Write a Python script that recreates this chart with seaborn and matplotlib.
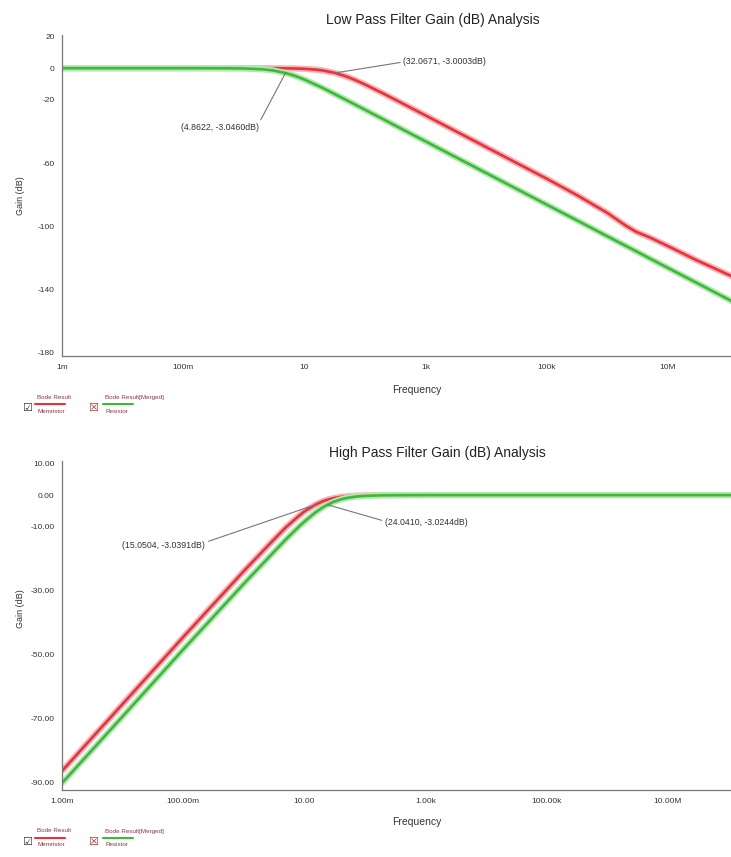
import pandas as pd
import matplotlib
matplotlib.use("Agg")
import matplotlib.pyplot as plt
import seaborn as sns
from matplotlib.lines import Line2D
from matplotlib.ticker import LogLocator, NullFormatter, MultipleLocator

# ---- low pass filter data (Hz, dB) ----
lp_freq = [1e-3, 1e-2, 0.1, 0.5, 1, 2, 3, 4.86, 7, 10, 15, 20, 32.07, 50, 70, 100,
           200, 500, 1e3, 1e4, 1e5, 3e5, 1e6, 2e6, 3e6, 5e6, 1e7, 3e7, 1.2e8]
lp_memristor = [0, 0, 0, 0, 0, -0.02, -0.04, -0.1, -0.2, -0.4, -0.86, -1.43, -3.0, -5.35,
                -7.6, -10.3, -16.0, -23.9, -29.9, -49.9, -69.9, -79.8, -91.5, -99.5,
                -103.5, -107.0, -112.5, -121.5, -132.0]
lp_resistor = [0, 0, 0, -0.05, -0.18, -0.68, -1.4, -3.05, -4.88, -7.19, -10.3, -12.5,
               -16.5, -20.3, -23.2, -26.3, -32.3, -40.3, -46.3, -66.3, -86.3, -95.8,
               -106.3, -112.3, -115.8, -120.3, -126.3, -135.8, -147.8]

# ---- high pass filter data (Hz, dB) ----
hp_freq = [1e-3, 1e-2, 0.1, 1, 3, 5, 8, 10, 15.05, 20, 24.04, 30, 40, 50, 70, 100,
           200, 1e3, 1e4, 1e5, 1e6, 1e7, 1.2e8]
hp_memristor = [-86.5, -65.5, -44.5, -23.8, -14.3, -10.0, -6.6, -5.1, -3.04, -1.95,
                -1.44, -0.97, -0.58, -0.38, -0.2, -0.1, -0.02, 0, 0, 0, 0, 0, 0]
hp_resistor = [-90.3, -69.4, -48.4, -27.8, -18.2, -13.8, -10.0, -8.3, -5.5, -3.88,
               -3.02, -2.15, -1.34, -0.9, -0.48, -0.24, -0.06, 0, 0, 0, 0, 0, 0]

lp_marks = [(32.0671, -3.0003, "(32.0671, -3.0003dB)"), (4.8622, -3.0460, "(4.8622, -3.0460dB)")]
hp_marks = [(15.0504, -3.0391, "(15.0504, -3.0391dB)"), (24.0410, -3.0244, "(24.0410, -3.0244dB)")]

x_ticks = [1e-3, 1e-1, 1e1, 1e3, 1e5, 1e7]
lp_xlabels = ["1m", "100m", "10", "1k", "100k", "10M"]
hp_xlabels = ["1.00m", "100.00m", "10.00", "1.00k", "100.00k", "10.00M"]
lp_yticks = [20, 0, -20, -60, -100, -140, -180]
lp_ylabels = ["20", "0", "-20", "-60", "-100", "-140", "-180"]
hp_yticks = [10, 0, -10, -30, -50, -70, -90]
hp_ylabels = ["10.00", "0.00", "-10.00", "-30.00", "-50.00", "-70.00", "-90.00"]

red = "#e8333b"
green = "#3db83d"
red_halo = "#f7b4b8"
green_halo = "#b5e8b0"

sns.set_style("white")
plt.rcParams["font.family"] = ["Liberation Sans", "DejaVu Sans"]

W, H = 731, 857
fig = plt.figure(figsize=(W / 100, H / 100), dpi=100)


def px(x, y):
    return x / W, 1 - y / H


def draw_panel(ax, freq, mem, res, xlabels, yticks, ylabels, ylim):
    df = pd.DataFrame({"freq": freq, "Memristor": mem, "Resistor": res})
    df = df.melt(id_vars="freq", var_name="series", value_name="gain")
    for name, c, h in [("Memristor", red, red_halo), ("Resistor", green, green_halo)]:
        d = df[df.series == name]
        sns.lineplot(data=d, x="freq", y="gain", color=h, lw=4.5, ax=ax, legend=False)
        sns.lineplot(data=d, x="freq", y="gain", color=c, lw=1.9, ax=ax, legend=False)
    ax.set_xscale("log")
    ax.set_xlim(1e-3, 1.1e8)
    ax.set_ylim(*ylim)
    ax.set_xticks(x_ticks)
    ax.set_xticklabels(xlabels)
    ax.xaxis.set_minor_locator(LogLocator(base=10, subs=(0.2, 0.4, 0.6, 0.8, 1.0), numticks=40))
    ax.xaxis.set_minor_formatter(NullFormatter())
    ax.set_yticks(yticks)
    ax.set_yticklabels(ylabels)
    ax.yaxis.set_minor_locator(MultipleLocator(10))
    for s in ["top", "right"]:
        ax.spines[s].set_visible(False)
    for s in ["left", "bottom"]:
        ax.spines[s].set_color("#777777")
        ax.spines[s].set_linewidth(0.9)
    ax.tick_params(axis="both", which="major", labelsize=6, colors="#777777",
                   labelcolor="#333333", length=3, width=0.7, direction="inout", pad=4)
    ax.tick_params(axis="both", which="minor", colors="#999999", length=2, width=0.5,
                   direction="inout")
    ax.set_xlabel("Frequency", fontsize=7.5, color="#333333")
    ax.set_ylabel("Gain (dB)", fontsize=6.5, color="#333333")
    ax.patch.set_alpha(0)


ax1 = fig.add_axes([0.085, 0.5846, 0.915, 0.3746])
draw_panel(ax1, lp_freq, lp_memristor, lp_resistor, lp_xlabels, lp_yticks, lp_ylabels, (-182, 21))
ax1.xaxis.set_label_coords(0.53, -0.09)
ax1.yaxis.set_label_coords(-0.055, 0.50)

ax2 = fig.add_axes([0.085, 0.0782, 0.915, 0.3839])
draw_panel(ax2, hp_freq, hp_memristor, hp_resistor, hp_xlabels, hp_yticks, hp_ylabels, (-92.5, 10.7))
ax2.xaxis.set_label_coords(0.53, -0.082)
ax2.yaxis.set_label_coords(-0.055, 0.55)

fig.text(*px(433, 20), "Low Pass Filter Gain (dB) Analysis", fontsize=10, color="#222222",
         ha="center", va="center")
fig.text(*px(437, 453), "High Pass Filter Gain (dB) Analysis", fontsize=10, color="#222222",
         ha="center", va="center")

ann = dict(fontsize=6.3, color="#333333", textcoords="data")
line = dict(arrowstyle="-", color="#777777", lw=0.8, shrinkA=0, shrinkB=0)

# low pass markers
ax1.annotate(lp_marks[0][2], xy=lp_marks[0][:2], xytext=(430, 4.5), ha="left", va="center",
             arrowprops=dict(line, relpos=(0, 0.4)), **ann)
ax1.annotate(lp_marks[1][2], xy=lp_marks[1][:2], xytext=(1.75, -37.5), ha="right", va="center",
             arrowprops=dict(line, relpos=(1, 0.9)), **ann)
# high pass markers
ax2.annotate(hp_marks[0][2], xy=hp_marks[0][:2], xytext=(0.23, -15.7), ha="right", va="center",
             arrowprops=dict(line, relpos=(1, 0.8)), **ann)
ax2.annotate(hp_marks[1][2], xy=hp_marks[1][:2], xytext=(215, -8.5), ha="left", va="center",
             arrowprops=dict(line, relpos=(0, 0.6)), **ann)


def legend_block(y0):
    items = [(22, 35, "Bode Result", "Memristor", red, "#333333"),
             (88, 103, "Bode Result[Merged]", "Resistor", green, "#b03030")]
    for bx, lx, top, name, c, bc in items:
        fig.text(*px(bx, y0 + 11), "\u2611" if bc == "#333333" else "\u2612", fontsize=8,
                 color=bc, ha="left", va="center", family=["DejaVu Sans"])
        fig.text(*px(lx + 2, y0), top, fontsize=4.5, color="#8b3a3a", ha="left", va="center")
        fig.add_artist(Line2D([lx / W, (lx + 30) / W], [1 - (y0 + 7) / H] * 2, color=c, lw=1.5))
        fig.text(*px(lx + 2, y0 + 14), name, fontsize=4.5, color="#8b3a3a", ha="left", va="center")


legend_block(397)
legend_block(831)

fig.savefig("out.png", dpi=100)
